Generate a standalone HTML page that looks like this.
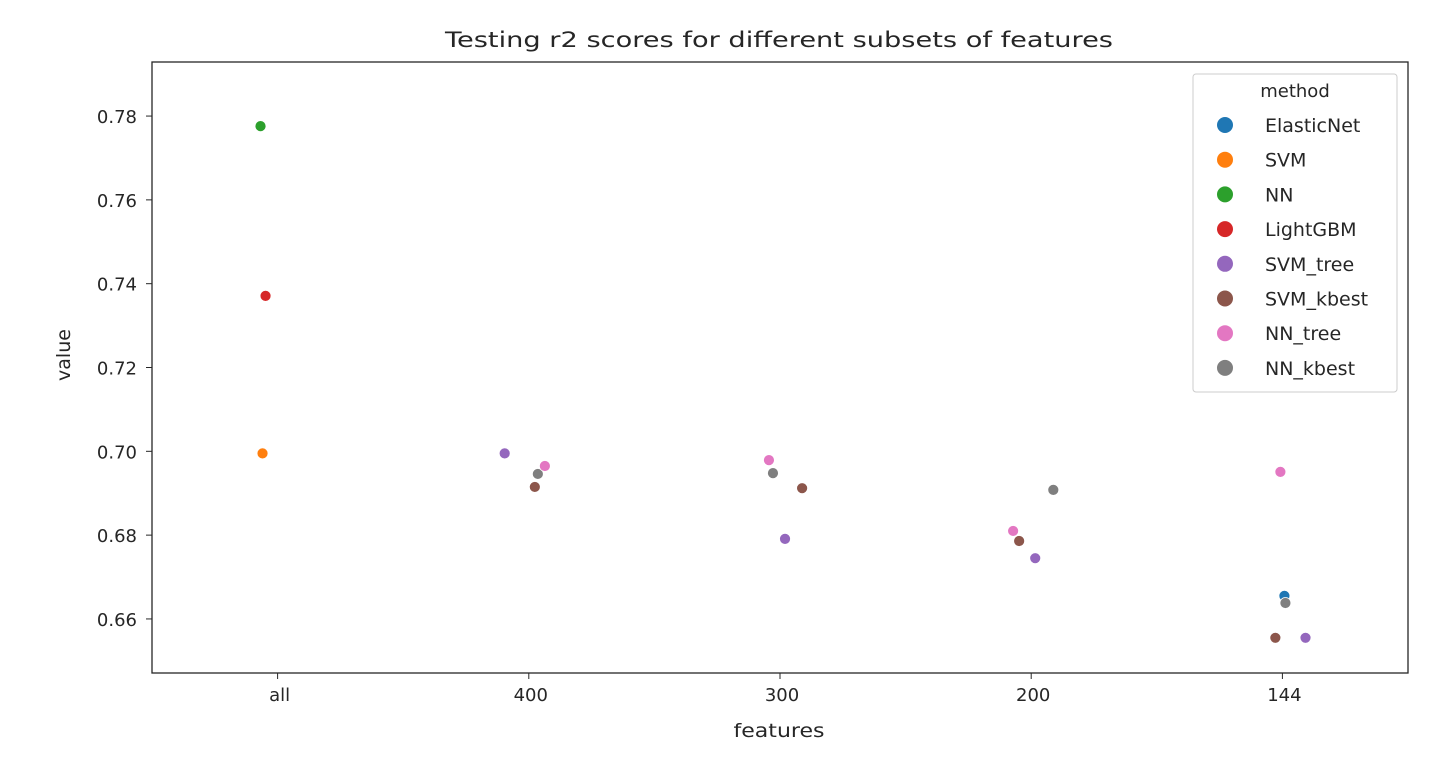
<!DOCTYPE html>
<html><head><meta charset="utf-8"><style>
body{margin:0;background:#fff;}
svg text{font-family:"DejaVu Sans","Liberation Sans",sans-serif;fill:#262626;}
</style></head><body>
<svg id="chart" width="1445" height="774" xmlns="http://www.w3.org/2000/svg">
<text x="779" y="47" text-anchor="middle" font-size="21" textLength="668" lengthAdjust="spacingAndGlyphs">Testing r2 scores for different subsets of features</text>
<rect x="152" y="62" width="1256" height="611" fill="none" stroke="#262626" stroke-width="1.3"/>
<g id="yaxis"></g>
<g id="xaxis"></g>
<g id="points"></g>
<text x="779" y="737" text-anchor="middle" font-size="19" textLength="91" lengthAdjust="spacingAndGlyphs">features</text>
<text x="70" y="355" text-anchor="middle" font-size="19" transform="rotate(-90 70 355)">value</text>
<g id="legend">
<rect x="1193" y="74" width="204" height="318" rx="3" fill="#fff" stroke="#ccc"/>
<text x="1295" y="97" text-anchor="middle" font-size="18">method</text>
</g>
</svg>
<script>
const categories = ["all","400","300","200","144"];
const methods = ["ElasticNet","SVM","NN","LightGBM","SVM_tree","SVM_kbest","NN_tree","NN_kbest"];
const colors = ["#1f77b4","#ff7f0e","#2ca02c","#d62728","#9467bd","#8c564b","#e377c2","#7f7f7f"];
const yTicks = [0.66,0.68,0.70,0.72,0.74,0.76,0.78];
const pointCategory = [0,0,0, 1,1,1,1, 2,2,2,2, 3,3,3,3, 4,4,4,4,4];
const pointMethod = [2,3,1, 4,5,7,6, 6,7,5,4, 6,5,4,7, 6,0,7,5,4];
const pointValue = [0.7776,0.7371,0.6995, 0.6995,0.6915,0.6946,0.6965, 0.6979,0.6948,0.6912,0.6791, 0.681,0.6786,0.6745,0.6908, 0.6951,0.6655,0.6638,0.6555,0.6555];
const pointJitter = [-0.068,-0.048,-0.06, -0.096,0.024,0.036,0.064, -0.044,-0.028,0.088,0.02, -0.072,-0.048,0.016,0.088, -0.008,0.008,0.012,-0.028,0.092];

const NS="http://www.w3.org/2000/svg";
const x0=152,x1=1408,y0=62,y1=673,vmin=0.6471,vmax=0.7929;
const xScale=c=>x0+(c+0.5)*(x1-x0)/categories.length;
const yScale=v=>y1-(v-vmin)/(vmax-vmin)*(y1-y0);
function mk(tag,attrs,parent){const e=document.createElementNS(NS,tag);for(const k in attrs)e.setAttribute(k,attrs[k]);parent.appendChild(e);return e;}
const ya=document.getElementById('yaxis');
yTicks.forEach(t=>{const y=yScale(t);
 const l=mk('line',{x1:x0-6,x2:x0,y1:y,y2:y,stroke:'#262626'},ya);
 
 
 const tx=mk('text',{x:x0-15,y:y+7,'text-anchor':'end','font-size':'18'},ya);tx.textContent=t.toFixed(2);
 
 
});
const xa=document.getElementById('xaxis');
categories.forEach((c,i)=>{const x=xScale(i);
 const l=mk('line',{x1:x,x2:x,y1:y1,y2:y1+6,stroke:'#262626'},xa);
 
 
 const tx=mk('text',{x:x+2,y:y1+28,'text-anchor':'middle','font-size':'18'},xa);tx.textContent=c;
 
 
});
const pg=document.getElementById('points');
pointValue.forEach((v,i)=>{
 const c=mk('circle',{cx:xScale(pointCategory[i]+pointJitter[i]),cy:yScale(v),r:5.5,fill:colors[pointMethod[i]],stroke:'#fff','stroke-width':0.8},pg);
 
 
});
const lg=document.getElementById('legend');
methods.forEach((m,i)=>{const y=125+i*34.7;
 const c=mk('circle',{cx:1225,cy:y,r:8,fill:colors[i]},lg);
 
 
 const t=mk('text',{x:1265,y:y+7,'font-size':'19'},lg);t.textContent=m;
 
 
});
</script>
</body></html>
